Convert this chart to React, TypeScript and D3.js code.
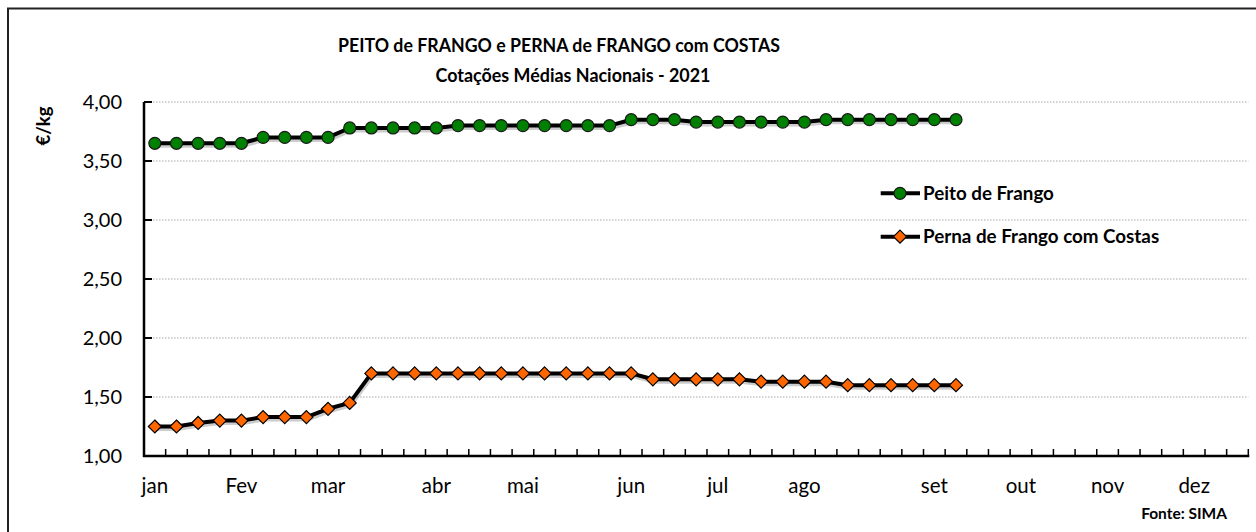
import React from "react";
import * as d3 from "d3";

const weekCount = 51;
const monthNames = ["jan", "Fev", "mar", "abr", "mai", "jun", "jul", "ago", "set", "out", "nov", "dez"];
const monthWeekIndex = [0, 4, 8, 13, 17, 22, 26, 30, 36, 40, 44, 48];

const peitoFrango = [
  3.65, 3.65, 3.65, 3.65, 3.65,
  3.70, 3.70, 3.70, 3.70,
  3.78, 3.78, 3.78, 3.78, 3.78,
  3.80, 3.80, 3.80, 3.80, 3.80, 3.80, 3.80, 3.80,
  3.85, 3.85, 3.85,
  3.83, 3.83, 3.83, 3.83, 3.83, 3.83,
  3.85, 3.85, 3.85, 3.85, 3.85, 3.85, 3.85,
];

const pernaFrango = [
  1.25, 1.25, 1.28, 1.30, 1.30, 1.33, 1.33, 1.33, 1.40, 1.45,
  1.70, 1.70, 1.70, 1.70, 1.70, 1.70, 1.70, 1.70, 1.70, 1.70, 1.70, 1.70, 1.70,
  1.65, 1.65, 1.65, 1.65, 1.65,
  1.63, 1.63, 1.63, 1.63,
  1.60, 1.60, 1.60, 1.60, 1.60, 1.60,
];

const yTicks = [1.0, 1.5, 2.0, 2.5, 3.0, 3.5, 4.0];
const seriesNames = ["Peito de Frango", "Perna de Frango com Costas"];
const titleLines = ["PEITO de FRANGO e PERNA de FRANGO com COSTAS", "Cotações Médias Nacionais - 2021"];
const yAxisTitle = "€/kg";
const sourceText = "Fonte: SIMA";

const FONT = "Lato, 'Open Sans', sans-serif";

export default function App() {
  const W = 1256;
  const H = 532;
  const left = 144;
  const right = 1248.3;
  const top = 102;
  const bottom = 456;

  const weeks = d3.range(weekCount);
  const x = d3.scaleBand<number>().domain(weeks).range([left, right]).padding(0);
  const cx = (i: number) => (x(i) as number) + x.bandwidth() / 2;
  const y = d3.scaleLinear().domain([1, 4]).range([bottom, top]);

  const line = d3
    .line<number>()
    .x((_, i) => cx(i))
    .y((d) => y(d));

  const fmt = (v: number) => v.toFixed(2).replace(".", ",");
  const diamond = (px: number, py: number, r: number) =>
    `M${px},${py - r}L${px + r},${py}L${px},${py + r}L${px - r},${py}Z`;

  const greenFill = "#008000";
  const orangeFill = "#FF6600";

  return (
    <svg width={W} height={H} style={{ position: "absolute", left: 0, top: 0, background: "#fff" }}>
      <rect x={0} y={0} width={W} height={H} fill="#fff" />
      <rect x={8} y={8.5} width={1300} height={600} fill="none" stroke="#222" strokeWidth={2} />

      {/* titles */}
      <text x={559} y={52} textAnchor="middle" fontFamily={FONT} fontWeight="bold" fontSize={19.5} fill="#000"
        textLength={442} lengthAdjust="spacingAndGlyphs">
        {titleLines[0]}
      </text>
      <text x={573} y={82} textAnchor="middle" fontFamily={FONT} fontWeight="bold" fontSize={19.5} fill="#000"
        textLength={275} lengthAdjust="spacingAndGlyphs">
        {titleLines[1]}
      </text>

      {/* gridlines */}
      {yTicks.filter((t) => t > 1).map((t) => (
        <line key={"g" + t} x1={left} x2={right} y1={y(t)} y2={y(t)} stroke="#a6a6a6" strokeWidth={1} strokeDasharray="1.5,1.5" />
      ))}

      {/* y tick labels */}
      {yTicks.map((t) => (
        <text key={"yl" + t} x={122} y={y(t) + 7} textAnchor="end" fontFamily={FONT} fontSize={20} fill="#000">
          {fmt(t)}
        </text>
      ))}

      {/* y axis title */}
      <text
        transform={`translate(50,126) rotate(-90)`}
        textAnchor="middle"
        fontFamily={FONT}
        fontWeight="bold"
        fontSize={18.5}
        fill="#000"
      >
        {yAxisTitle}
      </text>

      {/* series lines with shadow */}
      {[peitoFrango, pernaFrango].map((s, k) => (
        <path key={"sh" + k} d={line(s) as string} fill="none" stroke="#9a9a9a" strokeOpacity={0.5} strokeWidth={4} transform="translate(1,2.5)" strokeLinejoin="round" />
      ))}
      {[peitoFrango, pernaFrango].map((s, k) => (
        <path key={"ln" + k} d={line(s) as string} fill="none" stroke="#000" strokeWidth={4} strokeLinejoin="round" />
      ))}

      {/* markers */}
      {peitoFrango.map((v, i) => (
        <circle key={"c" + i} cx={cx(i)} cy={y(v)} r={6} fill={greenFill} stroke="#1a1a1a" strokeWidth={1.2} />
      ))}
      {pernaFrango.map((v, i) => (
        <path key={"d" + i} d={diamond(cx(i), y(v), 6.5)} fill={orangeFill} stroke="#000" strokeWidth={1.2} />
      ))}

      {/* axes */}
      <line x1={left} x2={left} y1={top} y2={bottom + 1} stroke="#000" strokeWidth={2.5} />
      {yTicks.map((t) => (
        <line key={"yt" + t} x1={left} x2={left + 8} y1={y(t)} y2={y(t)} stroke="#000" strokeWidth={2} />
      ))}
      <line x1={left - 1} x2={right + 1} y1={bottom} y2={bottom} stroke="#000" strokeWidth={2.5} />
      {d3.range(weekCount + 1).map((i) => {
        const tx = i < weekCount ? (x(i) as number) : right;
        return <line key={"xt" + i} x1={tx} x2={tx} y1={bottom} y2={bottom - 7} stroke="#000" strokeWidth={1.5} />;
      })}

      {/* month labels */}
      {monthNames.map((m, k) => (
        <text key={"m" + m} x={cx(monthWeekIndex[k])} y={493} textAnchor="middle" fontFamily={FONT} fontSize={20.5} fill="#000">
          {m}
        </text>
      ))}

      {/* legend */}
      <line x1={880.7} x2={920} y1={193.3} y2={193.3} stroke="#000" strokeWidth={4} />
      <circle cx={900} cy={193.3} r={6} fill={greenFill} stroke="#1a1a1a" strokeWidth={1.2} />
      <text x={923} y={199.5} fontFamily={FONT} fontWeight="bold" fontSize={18.8} fill="#000">
        {seriesNames[0]}
      </text>
      <line x1={880.7} x2={920} y1={236.7} y2={236.7} stroke="#000" strokeWidth={4} />
      <path d={diamond(900, 236.7, 6.5)} fill={orangeFill} stroke="#000" strokeWidth={1.2} />
      <text x={923} y={243} fontFamily={FONT} fontWeight="bold" fontSize={18.8} fill="#000">
        {seriesNames[1]}
      </text>

      {/* source */}
      <text x={1227} y={519} textAnchor="end" fontFamily={FONT} fontWeight="bold" fontSize={15.5} fill="#000">
        {sourceText}
      </text>
    </svg>
  );
}
